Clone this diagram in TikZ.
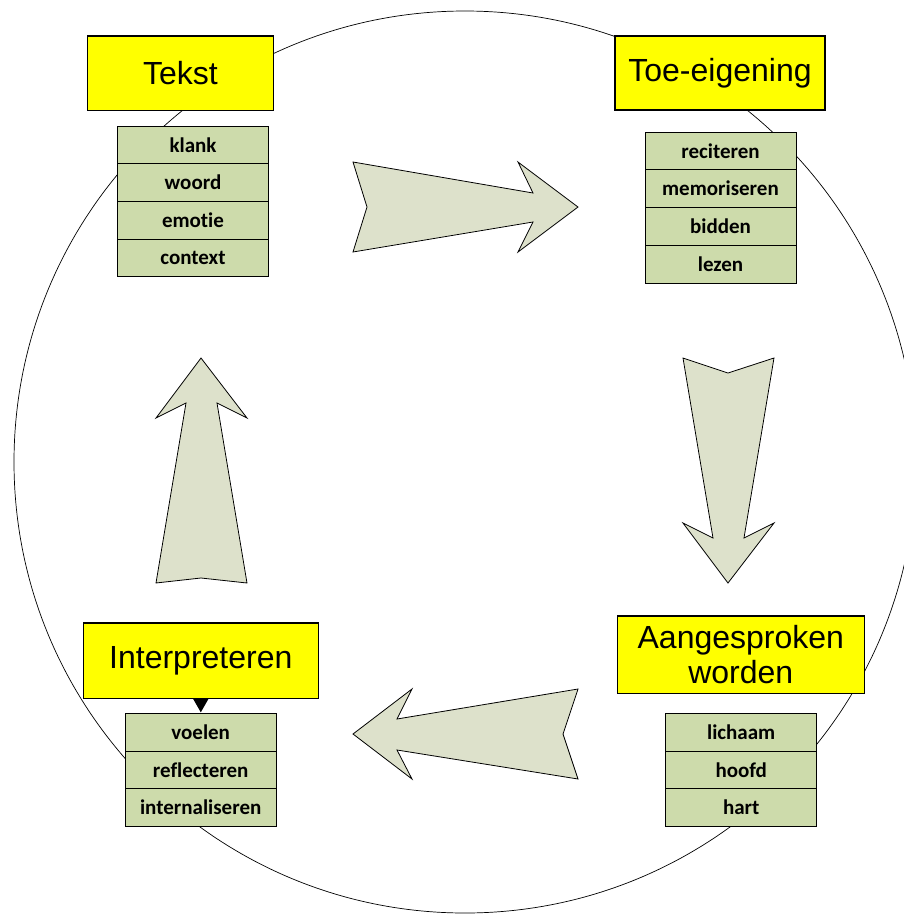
\documentclass[tikz,border=0pt]{standalone}
\usepackage{fontspec}
\setmainfont{Liberation Sans}
\newfontfamily\rijfont[Ligatures=NoCommon]{Carlito}
\usetikzlibrary{positioning}
\definecolor{titelgeel}{RGB}{255,255,0}
\definecolor{rijgroen}{RGB}{205,219,171}
\definecolor{pijlgrijs}{RGB}{221,225,203}

\begin{document}
\begin{tikzpicture}[x=1pt,y=-1pt,node distance=0pt]
    \tikzstyle{titel}=[draw=black,line width=1.6pt,fill=titelgeel,inner sep=0pt,outer sep=0pt,align=center,font=\fontsize{32}{35}\selectfont]
    \tikzstyle{rij}=[draw=black,line width=0.8pt,fill=rijgroen,inner sep=0pt,outer sep=0pt,minimum width=151pt,font=\rijfont\bfseries\fontsize{21}{24}\selectfont]
    \tikzstyle{pijl}=[draw=black,line width=0.8pt,fill=pijlgrijs,line join=miter]

    \useasboundingbox (0,0) rectangle (904,914);
    \draw[line width=0.7pt] (465,462) circle (451);

    % titels
    \node[titel,minimum width=186pt,minimum height=74.6pt] (tekst) at (180.5,73.3) {Tekst};
    \node[titel,minimum width=210pt,minimum height=74pt] (toe) at (720,73) {Toe-eigening};
    \node[titel,minimum width=235pt,minimum height=75.6pt] (interp) at (200.8,660.5) {Interpreteren};
    \node[titel,minimum width=247pt,minimum height=77.6pt] (aang) at (740.8,654.5) {Aangesproken\\worden};

    % tabellen
    \node[rij,minimum height=37.7pt] (klank) at (193,144.8) {klank};
    \node[rij,minimum height=37.7pt] (woord) [below=of klank] {woord};
    \node[rij,minimum height=37.7pt] (emotie) [below=of woord] {emotie};
    \node[rij,minimum height=37.7pt] (context) [below=of emotie] {context};

    \node[rij,minimum height=37.75pt] (reciteren) at (720.5,150.9) {reciteren};
    \node[rij,minimum height=37.75pt] (memoriseren) [below=of reciteren] {memoriseren};
    \node[rij,minimum height=37.75pt] (bidden) [below=of memoriseren] {bidden};
    \node[rij,minimum height=37.75pt] (lezen) [below=of bidden] {lezen};

    \node[rij,minimum height=37.6pt] (voelen) at (200.7,732.1) {voelen};
    \node[rij,minimum height=37.6pt] (reflecteren) [below=of voelen] {reflecteren};
    \node[rij,minimum height=37.6pt] (internaliseren) [below=of reflecteren] {internaliseren};

    \node[rij,minimum height=37.6pt] (lichaam) at (741.2,732.1) {lichaam};
    \node[rij,minimum height=37.6pt] (hoofd) [below=of lichaam] {hoofd};
    \node[rij,minimum height=37.6pt] (hart) [below=of hoofd] {hart};

    \fill (interp.south) ++(-8,0) -- ++(8,14) -- ++(8,-14) -- cycle;

    % pijlen
    \draw[pijl] (353,162) -- (367,207) -- (353,252) -- (533,222) -- (518,252) -- (578,207) -- (518,162) -- (533,193) -- cycle;
    \draw[pijl] (683,358) -- (728,373) -- (774,358) -- (744,538) -- (774,523) -- (728,583) -- (683,523) -- (713,538) -- cycle;
    \draw[pijl] (578,689) -- (563,734) -- (578,779) -- (397,750) -- (412,779) -- (353,734) -- (412,689) -- (397,719) -- cycle;
    \draw[pijl] (156,583) -- (201,578) -- (247,583) -- (217,403) -- (247,418) -- (201,358) -- (156,418) -- (186,403) -- cycle;
\end{tikzpicture}
\end{document}
